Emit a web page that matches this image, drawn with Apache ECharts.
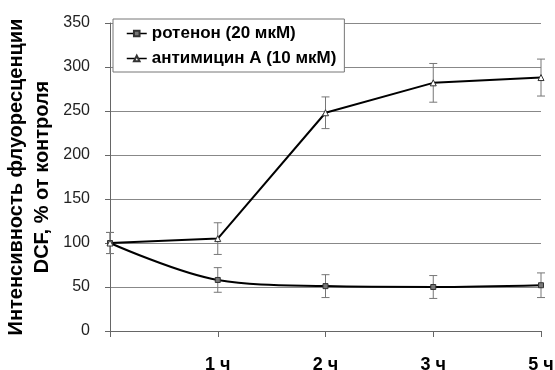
<!DOCTYPE html>
<html>
<head>
<meta charset="utf-8">
<script src="https://cdn.jsdelivr.net/npm/echarts@6/dist/echarts.min.js"></script>
<style>
  html, body { margin: 0; padding: 0; background: #fff; }
  #main { width: 555px; height: 370px; }
</style>
</head>
<body>
<div id="main"></div>
<script>
// time points (first one is the unlabeled control)
var categories = ['0', '1 ч', '2 ч', '3 ч', '5 ч'];
var rotenone = [100, 58, 51, 50, 52];
var rotenoneErr = [12, 14, 13, 13, 14];
var antimycin = [100, 105, 248, 282, 288];
var antimycinErr = [12, 18, 18, 22, 21];
var yTicks = [0, 50, 100, 150, 200, 250, 300, 350];

var FONT = '"Liberation Sans", Arial, sans-serif';

function errData(vals, errs) {
	var out = [];
	for (var i = 0; i < vals.length; i++) {
		out.push([i, vals[i] - errs[i], vals[i] + errs[i]]);
	}
	return out;
}

function renderErr(params, api) {
	var lo = api.coord([api.value(0), api.value(1)]);
	var hi = api.coord([api.value(0), api.value(2)]);
	var cap = 4;
	var st = { stroke: '#777', lineWidth: 1 };
	return {
		type: 'group',
		children: [
			{ type: 'line', shape: { x1: lo[0], y1: lo[1], x2: hi[0], y2: hi[1] }, style: st },
			{ type: 'line', shape: { x1: lo[0] - cap, y1: lo[1], x2: lo[0] + cap, y2: lo[1] }, style: st },
			{ type: 'line', shape: { x1: hi[0] - cap, y1: hi[1], x2: hi[0] + cap, y2: hi[1] }, style: st }
		]
	};
}

var chart = echarts.init(document.getElementById('main'), null, { renderer: 'canvas' });

var option = {
	backgroundColor: '#fff',
	animation: false,
	textStyle: { fontFamily: FONT },
	grid: { left: 110, right: 14, top: 23, bottom: 39, containLabel: false, outerBoundsMode: 'none' },
	legend: {
		data: ['ротенон (20 мкМ)', 'антимицин А (10 мкМ)'],
		orient: 'vertical',
		left: 113,
		top: 19,
		padding: [6, 8, 5, 13],
		itemGap: 8,
		itemWidth: 20,
		itemHeight: 7,
		backgroundColor: '#fff',
		borderColor: '#777',
		borderWidth: 1,
		borderRadius: 0,
		lineStyle: { width: 1.5 },
		textStyle: { fontFamily: FONT, fontSize: 17, fontWeight: 'bold', color: '#000' }
	},
	xAxis: {
		type: 'category',
		data: categories,
		boundaryGap: false,
		axisLine: { lineStyle: { color: '#666', width: 1 } },
		axisTick: { show: true, length: 6, inside: false, alignWithLabel: true, lineStyle: { color: '#666' } },
		axisLabel: {
			margin: 25,
			fontFamily: FONT,
			fontSize: 18,
			fontWeight: 'bold',
			color: '#000',
			formatter: function (v) { return v === '0' ? '' : v; }
		},
		splitLine: { show: false }
	},
	yAxis: {
		type: 'value',
		min: 0,
		max: 350,
		interval: 50,
		name: 'Интенсивность флуоресценции\nDCF, % от контроля',
		nameLocation: 'middle',
		nameGap: 55,
		nameMoveOverlap: false,
		nameRotate: 90,
		nameTextStyle: { fontFamily: FONT, fontSize: 20, fontWeight: 'bold', color: '#000', lineHeight: 26 },
		axisLine: { show: true, lineStyle: { color: '#666', width: 1 } },
		axisTick: { show: true, length: 5, lineStyle: { color: '#666' } },
		axisLabel: {
			margin: 20,
			fontFamily: FONT,
			fontSize: 16,
			color: '#222',
			formatter: function (v) { return yTicks.indexOf(v) >= 0 ? String(v) : ''; }
		},
		splitLine: { show: true, lineStyle: { color: '#888', width: 1 } }
	},
	series: [
		{
			name: 'rotErr',
			type: 'custom',
			renderItem: renderErr,
			data: errData(rotenone, rotenoneErr),
			encode: { x: 0, y: [1, 2] },
			z: 1
		},
		{
			name: 'antErr',
			type: 'custom',
			renderItem: renderErr,
			data: errData(antimycin, antimycinErr),
			encode: { x: 0, y: [1, 2] },
			z: 1
		},
		{
			name: 'ротенон (20 мкМ)',
			type: 'line',
			data: rotenone,
			smooth: 0.35,
			symbol: 'rect',
			symbolSize: 5,
			showAllSymbol: true,
			lineStyle: { color: '#000', width: 2 },
			itemStyle: { color: '#777', borderColor: '#333', borderWidth: 1 },
			z: 3
		},
		{
			name: 'антимицин А (10 мкМ)',
			type: 'line',
			data: antimycin,
			symbol: 'triangle',
			symbolSize: 6,
			showAllSymbol: true,
			lineStyle: { color: '#000', width: 2 },
			itemStyle: { color: '#fff', borderColor: '#333', borderWidth: 1 },
			z: 3
		}
	]
};

chart.setOption(option);
</script>
</body>
</html>
